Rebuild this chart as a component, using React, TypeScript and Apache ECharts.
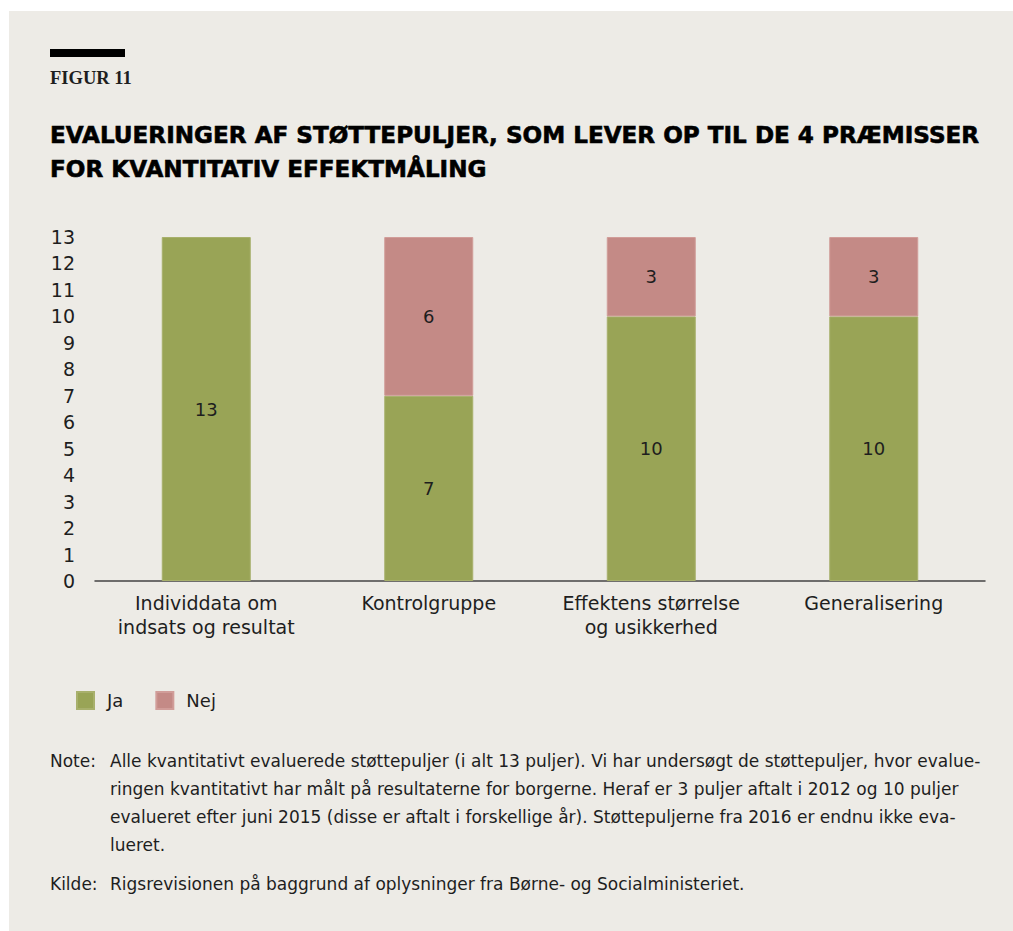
import React, { useEffect, useRef } from "react";
import * as echarts from "echarts";

const categories = [
  "Individdata om\nindsats og resultat",
  "Kontrolgruppe",
  "Effektens størrelse\nog usikkerhed",
  "Generalisering",
];
const jaValues = [13, 7, 10, 10];
const nejValues = [0, 6, 3, 3];
const yTicks = [0, 13, 1]; // min, max, interval

const titleLines = [
  "EVALUERINGER AF STØTTEPULJER, SOM LEVER OP TIL DE 4 PRÆMISSER",
  "FOR KVANTITATIV EFFEKTMÅLING",
];
const noteLines = [
  "Alle kvantitativt evaluerede støttepuljer (i alt 13 puljer). Vi har undersøgt de støttepuljer, hvor evalue-",
  "ringen kvantitativt har målt på resultaterne for borgerne. Heraf er 3 puljer aftalt i 2012 og 10 puljer",
  "evalueret efter juni 2015 (disse er aftalt i forskellige år). Støttepuljerne fra 2016 er endnu ikke eva-",
  "lueret.",
];
const sourceLine = "Rigsrevisionen på baggrund af oplysninger fra Børne- og Socialministeriet.";

const FONT = "'DejaVu Sans', sans-serif";
const GREEN = "#99a456";
const PINK = "#c48a86";
const BG = "#edebe6";
const TEXT = "#1e1e1e";
const NOTE_FONT = `17px ${FONT}`;

export default function App() {
  const ref = useRef<HTMLDivElement>(null);
  useEffect(() => {
    if (!ref.current) return;
    const chart = echarts.init(ref.current, null, { renderer: "svg" });
    const noteGraphics: any[] = noteLines.map((t, i) => ({
      type: "text",
      x: 110,
      y: 761 + i * 28,
      style: { text: t, font: NOTE_FONT, fill: TEXT, verticalAlign: "middle" },
    }));
    const labelCfg = {
      show: true,
      position: "inside",
      color: TEXT,
      fontSize: 18,
      fontFamily: FONT,
      formatter: (p: any) => (p.value ? String(p.value) : ""),
    };
    chart.setOption({
      animation: false,
      textStyle: { fontFamily: FONT },
      graphic: [
        { type: "rect", z: -10, shape: { x: 9, y: 11, width: 1004, height: 920 }, style: { fill: BG } },
        { type: "rect", shape: { x: 50, y: 49, width: 75, height: 8 }, style: { fill: "#000" } },
        {
          type: "text",
          x: 50,
          y: 78,
          style: { text: "FIGUR 11", font: `bold 18.5px 'Liberation Serif', serif`, fill: TEXT, verticalAlign: "middle" },
        },
        ...titleLines.map((t, i) => ({
          type: "text",
          x: 50,
          y: 135 + i * 34,
          style: {
            text: t,
            font: `bold 23.1px 'DejaVu Sans', sans-serif`,
            fill: "#000",
            stroke: "#000",
            lineWidth: 0.6,
            verticalAlign: "middle",
          },
        })),
        {
          type: "text",
          x: 50,
          y: 761,
          style: { text: "Note:", font: NOTE_FONT, fill: TEXT, verticalAlign: "middle" },
        },
        ...noteGraphics,
        {
          type: "text",
          x: 50,
          y: 884,
          style: { text: "Kilde:", font: NOTE_FONT, fill: TEXT, verticalAlign: "middle" },
        },
        {
          type: "text",
          x: 110,
          y: 884,
          style: { text: sourceLine, font: NOTE_FONT, fill: TEXT, verticalAlign: "middle" },
        },
      ],
      legend: {
        left: 76,
        top: 691,
        padding: 0,
        icon: "rect",
        itemWidth: 17,
        itemHeight: 17,
        itemGap: 32,
        textStyle: { fontSize: 18, color: TEXT, fontFamily: FONT, padding: [0, 0, 0, 8] },
        data: ["Ja", "Nej"],
      },
      grid: { left: 95, right: 28, top: 237, bottom: 350, containLabel: false },
      xAxis: {
        type: "category",
        data: categories,
        axisLine: { lineStyle: { color: "#444", width: 1.5 } },
        axisTick: { interval: 0, length: 5, lineStyle: { color: "#444", width: 1.5 } },
        axisLabel: { interval: 0, color: TEXT, fontSize: 19, lineHeight: 24, margin: 10, fontFamily: FONT },
      },
      yAxis: {
        type: "value",
        min: yTicks[0],
        max: yTicks[1],
        interval: yTicks[2],
        axisLine: { show: false },
        axisTick: { show: false },
        splitLine: { show: false },
        axisLabel: { color: TEXT, fontSize: 19, margin: 20, fontFamily: FONT },
      },
      series: [
        {
          name: "Ja",
          type: "bar",
          stack: "total",
          barWidth: "40%",
          data: jaValues.map((v) => (v === 0 ? null : v)),
          itemStyle: { color: GREEN, borderColor: "#a8b06c", borderWidth: 1 },
          label: labelCfg,
        },
        {
          name: "Nej",
          type: "bar",
          stack: "total",
          barWidth: "40%",
          data: nejValues.map((v) => (v === 0 ? null : v)),
          itemStyle: { color: PINK, borderColor: "#d19d99", borderWidth: 1 },
          label: labelCfg,
        },
      ],
    });
    return () => chart.dispose();
  }, []);
  return (
    <div
      ref={ref}
      style={{ position: "absolute", left: 0, top: 0, width: 1013, height: 931, background: "#fff" }}
    />
  );
}
